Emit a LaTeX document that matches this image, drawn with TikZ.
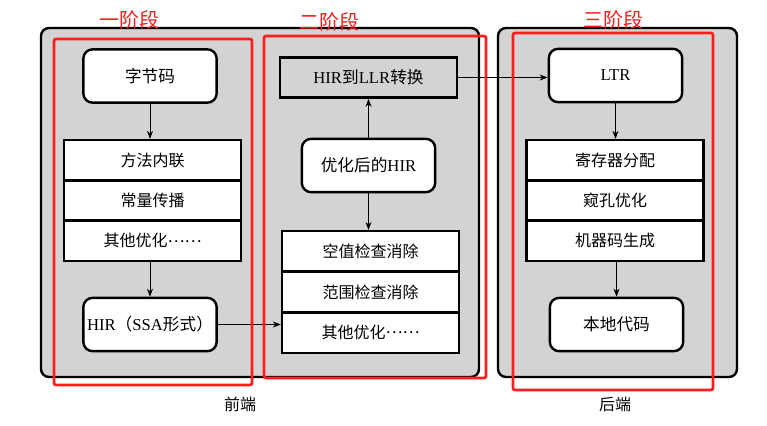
\documentclass[tikz,border=0pt]{standalone}
\usepackage{fontspec}
\setmainfont{Liberation Serif}
\newfontfamily\cjk{Noto Sans CJK SC}
\usetikzlibrary{arrows.meta}
\definecolor{bggray}{RGB}{211,211,211}
\definecolor{markred}{RGB}{255,28,28}
\newcommand{\middots}{\raisebox{0.3em}{……}}
\tikzset{
  stagebg/.style={draw=black,line width=1.8pt,fill=bggray,rounded corners=6pt},
  redframe/.style={draw=markred,line width=2pt,rounded corners=1.5pt},
  roundbox/.style={draw,line width=1.8pt,fill=white,rounded corners=7pt,
    minimum width=100pt,minimum height=40pt,inner sep=0pt,font=\fontsize{12.5}{14}\selectfont},
  rowbox/.style={draw,line width=1.8pt,fill=white,minimum width=132.75pt,
    minimum height=30.25pt,inner sep=0pt,font=\cjk\fontsize{12}{14}\selectfont},
  phaselabel/.style={text=markred,font=\cjk\fontsize{15}{17}\selectfont,inner sep=0pt},
  partlabel/.style={font=\cjk\fontsize{12}{14}\selectfont,inner sep=0pt},
  flow/.style={-{Stealth[length=6pt,width=4.5pt]},line width=0.6pt}
}
\begin{document}
\begin{tikzpicture}[x=0.75pt,y=-0.75pt]
    \useasboundingbox (0,0) rectangle (767,425);
    % grey background parts
    \draw[stagebg] (41,28) rectangle (479,377);
    \draw[stagebg] (498,28) rectangle (737,377);
    \node[partlabel] (front) at (240,404) {前端};
    \node[partlabel] (back) at (615,404) {后端};

    % stage one
    \node[roundbox] (bytecode) at (150,76) {\cjk 字节码};
    \node[rowbox] (inline) at (152.5,160.2) {方法内联};
    \node[rowbox] (constprop) at (152.5,200.5) {常量传播};
    \node[rowbox] (otherA) at (152.5,240.8) {其他优化\middots};
    \node[roundbox] (hir) at (150,324.5) {HIR{\cjk （}SSA{\cjk 形式）}};
    \draw[flow] (bytecode.south) -- (bytecode.south |- inline.north);
    \draw[flow] (hir.north |- otherA.south) -- (hir.north);

    % stage two
    \node[rowbox,fill=bggray,font=\fontsize{12.5}{14}\selectfont] (convert) at (368.5,77.5) {HIR{\cjk 到}LLR{\cjk 转换}};
    \node[roundbox] (opthir) at (368.5,165.5) {{\cjk 优化后的}HIR};
    \node[rowbox] (nullchk) at (370.5,251.3) {空值检查消除};
    \node[rowbox] (rangechk) at (370.5,292) {范围检查消除};
    \node[rowbox] (otherB) at (370.5,332.7) {其他优化\middots};
    \draw[flow] (opthir.north) -- (opthir.north |- convert.south);
    \draw[flow] (opthir.south) -- (opthir.south |- nullchk.north);
    \draw[flow] (hir.east) -- (hir.east -| otherB.west);

    % stage three
    \node[roundbox] (ltr) at (615.5,75.5) {LTR};
    \node[rowbox] (regalloc) at (615,160.2) {寄存器分配};
    \node[rowbox] (peephole) at (615,200.5) {窥孔优化};
    \node[rowbox] (codegen) at (615,240.8) {机器码生成};
    \node[roundbox] (native) at (616.5,324.5) {\cjk 本地代码};
    \draw[flow] (convert.east) -- (convert.east -| ltr.west);
    \draw[flow] (ltr.south) -- (ltr.south |- regalloc.north);
    \draw[flow] (native.north |- codegen.south) -- (native.north);

    % red marks
    \draw[redframe] (54,39) rectangle (252,385);
    \draw[redframe] (264,36) rectangle (486,378);
    \draw[redframe] (513,33) rectangle (713,390);
    \node[phaselabel] (phase1) at (129,19.5) {一阶段};
    \node[phaselabel] (phase2) at (329,22) {二阶段};
    \node[phaselabel] (phase3) at (613,19.5) {三阶段};
\end{tikzpicture}
\end{document}
